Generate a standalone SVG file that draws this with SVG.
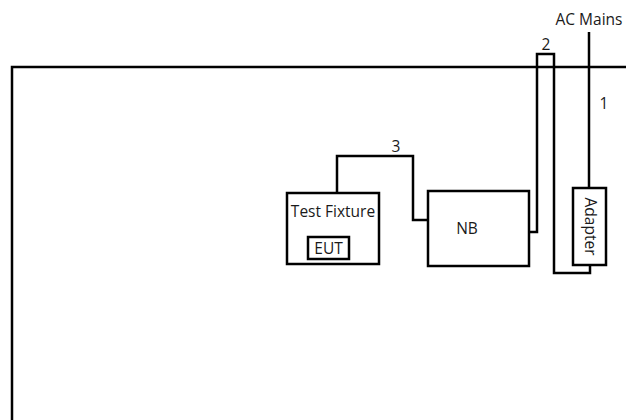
<svg xmlns="http://www.w3.org/2000/svg" width="626" height="420" viewBox="0 0 626 420">
<style>
.ln{fill:none;stroke:#000;stroke-width:2.5}
.bx{fill:#fff;stroke:#000;stroke-width:2.5}
text{font-family:"Open Sans","Noto Sans",sans-serif;font-size:15.5px;fill:#1a1a1a}
</style>
<rect width="626" height="420" fill="#fff"/>
<g id="frame"><path class="ln" d="M12 420 V67 H626"/></g>
<g id="connectors">
<path class="ln" d="M589 32 V188"/>
<path class="ln" d="M529 232 H537 V54 H554 V273 H590 V265"/>
<path class="ln" d="M337 193 V156 H413 V220 H428"/>
<text x="546" y="50" text-anchor="middle">2</text>
<text x="604" y="109" text-anchor="middle">1</text>
<text x="396" y="152" text-anchor="middle">3</text>
</g>
<g id="ac-mains"><text x="589" y="25" text-anchor="middle">AC Mains</text></g>
<g id="test-fixture">
<rect class="bx" x="287" y="193" width="92" height="71"/>
<text x="333" y="217" text-anchor="middle">Test Fixture</text>
</g>
<g id="eut">
<rect class="bx" x="308" y="237" width="41" height="22"/>
<text x="328.5" y="254" text-anchor="middle">EUT</text>
</g>
<g id="nb">
<rect class="bx" x="428" y="191" width="101" height="75"/>
<text x="467" y="234" text-anchor="middle">NB</text>
</g>
<g id="adapter">
<rect class="bx" x="573" y="188" width="33" height="77"/>
<text x="0" y="0" text-anchor="middle" transform="translate(585 226.5) rotate(90)">Adapter</text>
</g>
</svg>
